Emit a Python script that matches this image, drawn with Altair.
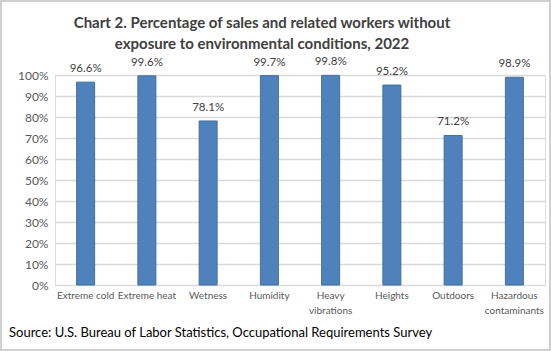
import altair as alt
import pandas as pd

categories = ["Extreme cold", "Extreme heat", "Wetness", "Humidity",
              "Heavy vibrations", "Heights", "Outdoors", "Hazardous contaminants"]
values = [96.6, 99.6, 78.1, 99.7, 99.8, 95.2, 71.2, 98.9]
y_ticks = [0, 10, 20, 30, 40, 50, 60, 70, 80, 90, 100]
title_lines = ["Chart 2. Percentage of sales and related workers without",
               "exposure to environmental conditions, 2022"]
source_text = "Source: U.S. Bureau of Labor Statistics, Occupational Requirements Survey"

df = pd.DataFrame({"cat": categories, "val": values})
df["lbl"] = [f"{v:.1f}%" for v in values]

W, H = 490, 210
FONT = "Lato"

x = alt.X("cat:N", sort=categories, title=None,
          scale=alt.Scale(paddingInner=0.0, paddingOuter=0.0),
          axis=alt.Axis(labelAngle=0, labelFontSize=10, labelColor="#595959", labelFont=FONT,
                        domain=False, ticks=False, labelPadding=5, labelLimit=120,
                        labelLineHeight=15,
                        labelExpr="datum.label == 'Heavy vibrations' ? ['Heavy','vibrations'] : datum.label == 'Hazardous contaminants' ? ['Hazardous','contaminants'] : datum.label"))
y = alt.Y("val:Q", title=None, scale=alt.Scale(domain=[0, 100], nice=False),
          axis=alt.Axis(values=y_ticks, labelExpr="datum.value + '%'", labelFontSize=12,
                        labelColor="#595959", labelFont=FONT, domain=False, ticks=False,
                        gridColor="#d9d9d9", gridWidth=1.5, labelPadding=7, labelOverlap=False))

bars = alt.Chart(df).mark_bar(size=18, color="#4f81bd", stroke="#41719c", strokeWidth=1).encode(x=x, y=y)
labels = alt.Chart(df).mark_text(dy=-8, fontSize=11.5, color="#404040", font=FONT, baseline="bottom").encode(
    x=x, y=y, text="lbl:N")

title1 = alt.Chart(pd.DataFrame({"t": [title_lines[0]]})).mark_text(
    align="center", baseline="middle", fontSize=15, fontWeight="bold", color="#404040", font=FONT).encode(
    x=alt.value(207), y=alt.value(-52), text="t:N")
title2 = alt.Chart(pd.DataFrame({"t": [title_lines[1]]})).mark_text(
    align="center", baseline="middle", fontSize=15, fontWeight="bold", color="#404040", font=FONT).encode(
    x=alt.value(207), y=alt.value(-31), text="t:N")

source = alt.Chart(pd.DataFrame({"t": [source_text]})).mark_text(
    align="left", baseline="middle", fontSize=13, color="#000000", font=FONT).encode(
    x=alt.value(-46), y=alt.value(H + 48), text="t:N")

frame = alt.Chart(pd.DataFrame({"a": [1]})).mark_rect(fill=None, stroke="#d0d0d0", strokeWidth=2).encode(
    x=alt.value(-54), x2=alt.value(W + 5), y=alt.value(-74), y2=alt.value(H + 65))

chart = alt.layer(bars, labels, title1, title2, source, frame).properties(
    width=W, height=H,
    padding={"left": 55, "top": 75, "right": 6, "bottom": 66},
    autosize=alt.AutoSizeParams(type="none"),
).configure_view(stroke=None).configure(background="white")

chart.save("out.html", embed_options={"renderer": "svg", "actions": False})
